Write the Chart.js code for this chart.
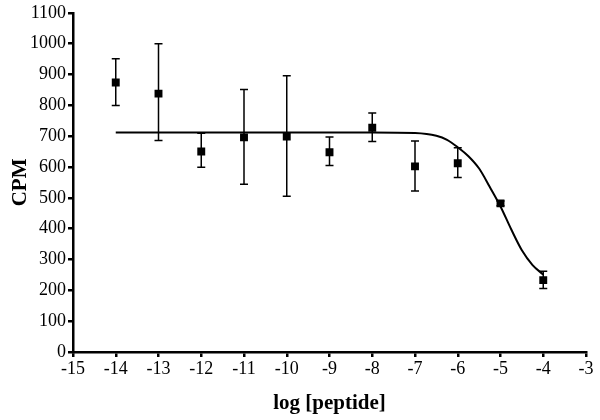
<!DOCTYPE html>
<html>
<head>
<meta charset="utf-8">
<script src="https://cdn.jsdelivr.net/npm/chart.js@4"></script>
<style>
  html, body { margin: 0; padding: 0; background: #fff; }
  #wrap { width: 600px; height: 420px; }
</style>
</head>
<body>
<div id="wrap"><canvas id="myChart"></canvas></div>
<script>
// measured points
const doses = [-14, -13, -12, -11, -10, -9, -8, -7, -6, -5, -4]
const cpm = [874, 838, 650, 696, 699, 648, 727, 602, 612, 482, 233]
const errUpper = [951, 1000, 709, 851, 896, 697, 775, 684, 662, 490, 262]
const errLower = [799, 686, 599, 544, 505, 605, 683, 522, 566, 474, 206]

// fitted curve
const curveX = [-14, -10, -8, -7, -6.5, -6.25, -6, -5.75, -5.5, -5.25, -5, -4.75, -4.5, -4.25, -4]
const curveY = [712, 712, 712, 710, 701, 688, 664, 635, 595, 535, 472, 398, 330, 282, 251]

const xTicks = [-15, -14, -13, -12, -11, -10, -9, -8, -7, -6, -5, -4, -3]
const yTicks = [0, 100, 200, 300, 400, 500, 600, 700, 800, 900, 1000, 1100]

const errorBars = {
  id: "errorBars",
  afterDatasetsDraw(chart) {
    const { ctx, scales: { x, y } } = chart
    ctx.save()
    ctx.strokeStyle = "#000"
    ctx.lineWidth = 1.5
    doses.forEach((d, i) => {
      const px = x.getPixelForValue(d)
      const top = y.getPixelForValue(errUpper[i])
      const bot = y.getPixelForValue(errLower[i])
      ctx.beginPath()
      ctx.moveTo(px, top); ctx.lineTo(px, bot)
      ctx.moveTo(px - 4, top); ctx.lineTo(px + 4, top)
      ctx.moveTo(px - 4, bot); ctx.lineTo(px + 4, bot)
      ctx.stroke()
    })
    ctx.restore()
  }
}

const tickFont = { family: "Liberation Serif", size: 18 }
const titleFont = { family: "Liberation Serif", size: 21, weight: "bold" }

new Chart(document.getElementById("myChart"), {
  type: "scatter",
  data: {
    datasets: [
      {
        type: "line",
        data: curveX.map((v, i) => ({ x: v, y: curveY[i] })),
        borderColor: "#000",
        borderWidth: 2,
        pointRadius: 0,
        cubicInterpolationMode: "monotone",
        fill: false
      },
      {
        data: doses.map((v, i) => ({ x: v, y: cpm[i] })),
        pointStyle: "rect",
        pointRadius: 5.6,
        backgroundColor: "#000",
        borderColor: "#000",
        borderWidth: 0
      }
    ]
  },
  plugins: [errorBars],
  options: {
    responsive: true,
    maintainAspectRatio: false,
    animation: false,
    layout: { padding: { left: 4, right: 14, top: 12, bottom: 0 } },
    plugins: { legend: { display: false }, tooltip: { enabled: false } },
    scales: {
      x: {
        type: "linear",
        min: -15,
        max: -3,
        afterBuildTicks: (s) => { s.ticks = xTicks.map(v => ({ value: v })) },
        afterFit: (s) => { s.height = 68 },
        border: { display: true, color: "#000", width: 2.5 },
        grid: { drawOnChartArea: false, drawTicks: true, tickLength: 5, color: "#000", lineWidth: 2.5 },
        ticks: { color: "#000", font: tickFont, padding: 1, maxRotation: 0, callback: (v) => String(v) },
        title: { display: true, text: "log [peptide]", color: "#000", font: titleFont, padding: { top: 12 } }
      },
      y: {
        type: "linear",
        min: 0,
        max: 1100,
        afterBuildTicks: (s) => { s.ticks = yTicks.map(v => ({ value: v })) },
        afterFit: (s) => { s.width = 69 },
        border: { display: true, color: "#000", width: 2.5 },
        grid: { drawOnChartArea: false, drawTicks: true, tickLength: 5, color: "#000", lineWidth: 2.5 },
        ticks: { color: "#000", font: tickFont, padding: 2, callback: (v) => String(v) },
        title: { display: true, text: "CPM", color: "#000", font: titleFont, padding: { bottom: 0 } }
      }
    }
  }
})
</script>
</body>
</html>
